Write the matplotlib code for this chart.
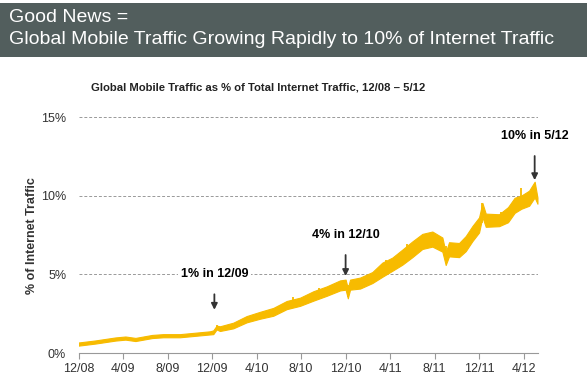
import matplotlib
matplotlib.use("Agg")
import matplotlib.pyplot as plt
from matplotlib.patches import Rectangle

plt.rcParams['font.family'] = ['Liberation Sans', 'DejaVu Sans']

# months since 12/08, share of internet traffic (%) and half-width of the daily noise band
months = [0, 1.5, 3.3, 4.2, 5.1, 6.6, 7.6, 9.1, 10.6, 11.8, 12.1, 12.4, 12.7, 13.9, 15.1,
          16.3, 17.5, 18.7, 19.9, 21.1, 22.3, 23.5, 24.0, 24.2, 24.4, 25.3, 26.4, 27.3,
          28.2, 29.1, 30.0, 30.9, 31.8, 32.7, 33.0, 33.3, 34.2, 34.8, 35.4, 36.0, 36.3,
          36.6, 37.8, 38.6, 39.2, 39.8, 40.5, 41.0, 41.25]
share = [0.57, 0.70, 0.89, 0.95, 0.86, 1.05, 1.10, 1.10, 1.20, 1.28, 1.32, 1.62, 1.55,
         1.75, 2.15, 2.40, 2.62, 3.05, 3.26, 3.63, 3.94, 4.30, 4.35, 3.80, 4.35, 4.45,
         4.80, 5.30, 5.65, 6.10, 6.60, 7.10, 7.25, 6.90, 6.00, 6.60, 6.55, 6.96, 7.60,
         8.15, 9.10, 8.45, 8.45, 8.80, 9.40, 9.60, 9.85, 10.40, 9.70]
spread = [0.10, 0.10, 0.10, 0.10, 0.10, 0.10, 0.10, 0.10, 0.10, 0.10, 0.12, 0.12, 0.15,
          0.18, 0.20, 0.22, 0.25, 0.26, 0.26, 0.30, 0.30, 0.32, 0.32, 0.32, 0.32, 0.35,
          0.35, 0.45, 0.42, 0.48, 0.50, 0.48, 0.48, 0.45, 0.40, 0.45, 0.45, 0.48, 0.48,
          0.48, 0.45, 0.42, 0.38, 0.48, 0.48, 0.42, 0.48, 0.50, 0.20]

# single-day spikes: month, start value, end value
spike_months = [12.4, 19.3, 21.6, 24.2, 27.6, 29.5, 33.0, 33.9, 36.3, 38.0, 39.8, 41.0]
spike_from = [1.6, 3.1, 3.7, 4.3, 5.3, 6.3, 6.8, 6.6, 8.3, 8.5, 9.6, 10.4]
spike_to = [1.78, 3.55, 4.15, 3.55, 5.95, 6.95, 5.85, 6.1, 9.56, 9.0, 10.5, 10.85]

tick_pos = [0, 4, 8, 12, 16, 20, 24, 28, 32, 36, 40]
tick_labels = ['12/08', '4/09', '8/09', '12/09', '4/10', '8/10', '12/10',
               '4/11', '8/11', '12/11', '4/12']

# (text, month, value of arrow tip, text height)
notes = [('1% in 12/09', 12.2, 2.75, 5.0),
         ('4% in 12/10', 24.0, 4.9, 7.5),
         ('10% in 5/12', 41.0, 11.0, 13.8)]

gold = '#F7BB00'

fig = plt.figure(figsize=(5.87, 3.79), dpi=100, facecolor='white')

# Banner
fig.patches.append(Rectangle((0, 1 - 57 / 379), 1, 54 / 379, transform=fig.transFigure,
                             facecolor='#525E5D', edgecolor='none'))
fig.text(9 / 587, 1 - 17 / 379, 'Good News =', color='white', fontsize=14, va='center')
fig.text(9 / 587, 1 - 40 / 379, 'Global Mobile Traffic Growing Rapidly to 10% of Internet Traffic',
         color='white', fontsize=14, va='center')
fig.text(258 / 587, 1 - 87 / 379,
         'Global Mobile Traffic as % of Total Internet Traffic, 12/08 \u2013 5/12',
         fontsize=8.1, fontweight='bold', color='#222222', ha='center', va='center')

ax = fig.add_axes([78.7 / 587, 1 - 353 / 379, (538 - 78.7) / 587, (353 - 117.3) / 379])

lo = [s - d for s, d in zip(share, spread)]
hi = [s + d for s, d in zip(share, spread)]
ax.fill_between(months, lo, hi, color=gold, lw=0.8, edgecolor=gold, zorder=3)
ax.vlines(spike_months, spike_from, spike_to, color=gold, lw=1.3, zorder=3)

ax.set_xlim(0, 41.3)
ax.set_ylim(0, 15)
ax.set_yticks([0, 5, 10, 15])
ax.set_yticklabels(['0%', '5%', '10%', '15%'])
ax.set_xticks(tick_pos)
ax.set_xticklabels(tick_labels)
for y in [5, 10, 15]:
    ax.axhline(y, color='#999999', lw=0.7, ls=(0, (3, 2)), zorder=1)

for s in ['top', 'right', 'left']:
    ax.spines[s].set_visible(False)
ax.spines['bottom'].set_color('#999999')
ax.tick_params(axis='x', colors='#999999', length=4, labelsize=9, labelcolor='#333333', pad=3)
ax.tick_params(axis='y', length=0, labelsize=9, labelcolor='#333333', pad=9)
ax.set_ylabel('% of Internet Traffic', fontsize=9, fontweight='bold', color='#333333')
ax.yaxis.set_label_coords(-0.088, 0.5)

for text, m, tip, ty in notes:
    ax.annotate(text, xy=(m, tip), xytext=(m, ty), ha='center', va='center',
                fontsize=9, fontweight='bold', color='black', zorder=5,
                bbox=dict(facecolor='white', edgecolor='none', pad=2),
                arrowprops=dict(arrowstyle='-|>', color='#333333', lw=1.3,
                                mutation_scale=9, shrinkA=8, shrinkB=0))

fig.savefig('out.png', dpi=100, facecolor='white')
